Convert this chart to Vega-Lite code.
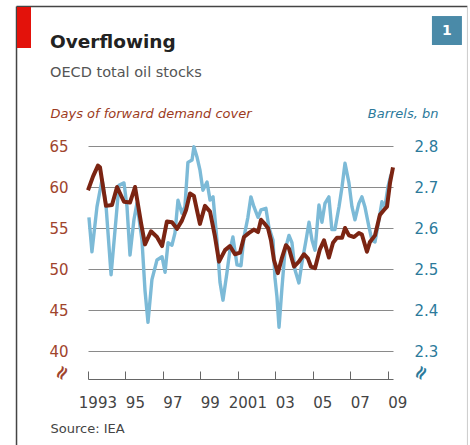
{
  "$schema": "https://vega.github.io/schema/vega-lite/v6.json",
  "width": 334,
  "height": 205,
  "autosize": {"type": "none"},
  "padding": {"left": 74, "top": 146, "right": 62, "bottom": 94},
  "background": "white",
  "config": {"view": {"stroke": null}, "font": "DejaVu Sans"},
  "title": {
    "text": "Overflowing",
    "subtitle": "OECD total oil stocks",
    "anchor": "start",
    "frame": "group",
    "dx": -24,
    "offset": -74,
    "font": "DejaVu Sans",
    "fontSize": 18.5,
    "fontWeight": "bold",
    "color": "#222222",
    "subtitleFont": "DejaVu Sans",
    "subtitleFontSize": 14.5,
    "subtitleColor": "#555555",
    "subtitlePadding": 15
  },
  "datasets": {
    "days": [
      {"year": 1993.00, "days": 59.6}, {"year": 1993.27, "days": 61.3}, {"year": 1993.53, "days": 62.6}, {"year": 1993.64, "days": 62.4},
      {"year": 1993.96, "days": 57.7}, {"year": 1994.28, "days": 57.8}, {"year": 1994.55, "days": 60.0}, {"year": 1994.92, "days": 58.2},
      {"year": 1995.24, "days": 58.1}, {"year": 1995.51, "days": 60.0}, {"year": 1995.83, "days": 55.6}, {"year": 1996.04, "days": 53.0},
      {"year": 1996.36, "days": 54.6}, {"year": 1996.68, "days": 53.9}, {"year": 1996.95, "days": 52.8}, {"year": 1997.21, "days": 55.8},
      {"year": 1997.48, "days": 55.7}, {"year": 1997.75, "days": 54.9}, {"year": 1998.01, "days": 55.9}, {"year": 1998.23, "days": 57.2},
      {"year": 1998.44, "days": 59.2}, {"year": 1998.65, "days": 58.9}, {"year": 1998.81, "days": 57.2}, {"year": 1998.97, "days": 55.5},
      {"year": 1999.24, "days": 57.7}, {"year": 1999.51, "days": 57.0}, {"year": 1999.77, "days": 54.0}, {"year": 1999.99, "days": 50.9},
      {"year": 2000.31, "days": 52.3}, {"year": 2000.57, "days": 52.8}, {"year": 2000.84, "days": 51.8}, {"year": 2001.11, "days": 52.0},
      {"year": 2001.32, "days": 53.9}, {"year": 2001.59, "days": 54.4}, {"year": 2001.85, "days": 54.8}, {"year": 2002.07, "days": 54.5},
      {"year": 2002.23, "days": 56.0}, {"year": 2002.39, "days": 55.6}, {"year": 2002.60, "days": 55.0}, {"year": 2002.76, "days": 53.5},
      {"year": 2002.92, "days": 51.1}, {"year": 2003.13, "days": 49.5}, {"year": 2003.35, "days": 51.4}, {"year": 2003.56, "days": 52.9},
      {"year": 2003.72, "days": 52.5}, {"year": 2003.99, "days": 50.3}, {"year": 2004.25, "days": 50.9}, {"year": 2004.52, "days": 51.8},
      {"year": 2004.73, "days": 51.3}, {"year": 2004.89, "days": 50.3}, {"year": 2005.11, "days": 50.1}, {"year": 2005.37, "days": 52.4},
      {"year": 2005.59, "days": 53.5}, {"year": 2005.85, "days": 51.4}, {"year": 2006.07, "days": 53.2}, {"year": 2006.28, "days": 53.8},
      {"year": 2006.55, "days": 53.8}, {"year": 2006.71, "days": 55.0}, {"year": 2006.92, "days": 54.1}, {"year": 2007.19, "days": 53.9},
      {"year": 2007.45, "days": 54.4}, {"year": 2007.61, "days": 54.2}, {"year": 2007.88, "days": 52.1}, {"year": 2008.04, "days": 53.3},
      {"year": 2008.31, "days": 54.1}, {"year": 2008.57, "days": 56.6}, {"year": 2008.79, "days": 57.2}, {"year": 2008.95, "days": 57.6},
      {"year": 2009.11, "days": 60.5}, {"year": 2009.27, "days": 62.4}
    ],
    "barrels": [
      {"year": 1993.05, "bn": 2.626}, {"year": 1993.21, "bn": 2.542}, {"year": 1993.48, "bn": 2.652}, {"year": 1993.75, "bn": 2.718},
      {"year": 1993.96, "bn": 2.656}, {"year": 1994.23, "bn": 2.486}, {"year": 1994.49, "bn": 2.620}, {"year": 1994.65, "bn": 2.704},
      {"year": 1994.92, "bn": 2.710}, {"year": 1995.08, "bn": 2.652}, {"year": 1995.24, "bn": 2.534}, {"year": 1995.45, "bn": 2.620},
      {"year": 1995.61, "bn": 2.660}, {"year": 1995.88, "bn": 2.570}, {"year": 1996.04, "bn": 2.448}, {"year": 1996.20, "bn": 2.370},
      {"year": 1996.41, "bn": 2.474}, {"year": 1996.68, "bn": 2.522}, {"year": 1996.95, "bn": 2.530}, {"year": 1997.11, "bn": 2.492},
      {"year": 1997.27, "bn": 2.564}, {"year": 1997.48, "bn": 2.558}, {"year": 1997.64, "bn": 2.588}, {"year": 1997.80, "bn": 2.668},
      {"year": 1998.01, "bn": 2.636}, {"year": 1998.17, "bn": 2.652}, {"year": 1998.33, "bn": 2.760}, {"year": 1998.55, "bn": 2.766},
      {"year": 1998.65, "bn": 2.798}, {"year": 1998.81, "bn": 2.774}, {"year": 1998.97, "bn": 2.742}, {"year": 1999.13, "bn": 2.692},
      {"year": 1999.35, "bn": 2.712}, {"year": 1999.51, "bn": 2.668}, {"year": 1999.67, "bn": 2.676}, {"year": 1999.88, "bn": 2.570},
      {"year": 2000.04, "bn": 2.468}, {"year": 2000.20, "bn": 2.424}, {"year": 2000.41, "bn": 2.490}, {"year": 2000.57, "bn": 2.546},
      {"year": 2000.73, "bn": 2.578}, {"year": 2000.95, "bn": 2.510}, {"year": 2001.16, "bn": 2.508}, {"year": 2001.32, "bn": 2.578},
      {"year": 2001.53, "bn": 2.626}, {"year": 2001.69, "bn": 2.676}, {"year": 2001.85, "bn": 2.652}, {"year": 2002.07, "bn": 2.626},
      {"year": 2002.23, "bn": 2.644}, {"year": 2002.49, "bn": 2.648}, {"year": 2002.65, "bn": 2.602}, {"year": 2002.87, "bn": 2.570},
      {"year": 2002.97, "bn": 2.480}, {"year": 2003.08, "bn": 2.432}, {"year": 2003.19, "bn": 2.358}, {"year": 2003.35, "bn": 2.456},
      {"year": 2003.51, "bn": 2.546}, {"year": 2003.72, "bn": 2.582}, {"year": 2003.88, "bn": 2.564}, {"year": 2004.04, "bn": 2.498},
      {"year": 2004.25, "bn": 2.466}, {"year": 2004.41, "bn": 2.514}, {"year": 2004.63, "bn": 2.570}, {"year": 2004.79, "bn": 2.614},
      {"year": 2004.95, "bn": 2.570}, {"year": 2005.11, "bn": 2.546}, {"year": 2005.32, "bn": 2.656}, {"year": 2005.48, "bn": 2.614},
      {"year": 2005.64, "bn": 2.660}, {"year": 2005.85, "bn": 2.676}, {"year": 2006.01, "bn": 2.596}, {"year": 2006.17, "bn": 2.596},
      {"year": 2006.39, "bn": 2.652}, {"year": 2006.55, "bn": 2.700}, {"year": 2006.71, "bn": 2.758}, {"year": 2006.92, "bn": 2.710},
      {"year": 2007.08, "bn": 2.652}, {"year": 2007.24, "bn": 2.620}, {"year": 2007.45, "bn": 2.660}, {"year": 2007.61, "bn": 2.676},
      {"year": 2007.77, "bn": 2.652}, {"year": 2007.99, "bn": 2.602}, {"year": 2008.15, "bn": 2.570}, {"year": 2008.31, "bn": 2.566},
      {"year": 2008.52, "bn": 2.620}, {"year": 2008.68, "bn": 2.664}, {"year": 2008.84, "bn": 2.652}, {"year": 2009.00, "bn": 2.700},
      {"year": 2009.16, "bn": 2.730}
    ]
  },
  "layer": [
    {
      "data": {"name": "barrels"},
      "mark": {"type": "line", "color": "#7cbad7", "strokeWidth": 3.4, "strokeJoin": "round"},
      "encoding": {
        "x": {
          "field": "year", "type": "quantitative",
          "scale": {"domain": [1993, 2009.27], "range": [14, 319], "nice": false, "zero": false},
          "axis": {
            "values": [1993, 1994, 1995, 1996, 1997, 1998, 1999, 2000, 2001, 2002, 2003, 2004, 2005, 2006, 2007, 2008, 2009],
            "format": "d",
            "labelExpr": "datum.value % 2 == 0 ? '' : ((datum.value == 1993 || datum.value == 2001) ? format(datum.value, 'd') : slice(format(datum.value, 'd'), 2))",
            "labelOffset": 9.4, "labelOverlap": false, "labelFlush": false, "labelBound": false,
            "offset": 28, "grid": false,
            "domainColor": "#666666", "tickColor": "#666666", "tickSize": -8,
            "labelPadding": 24, "labelFontSize": 15, "labelColor": "#444444", "labelFont": "DejaVu Sans",
            "title": "Source: IEA", "titleX": -24, "titleY": 49, "titleAlign": "left", "titleBaseline": "middle",
            "titleFontSize": 13, "titleFontWeight": "normal", "titleColor": "#444444", "titleFont": "DejaVu Sans"
          }
        },
        "y": {
          "field": "bn", "type": "quantitative",
          "scale": {"domain": [2.3, 2.8], "nice": false, "zero": false},
          "axis": {
            "orient": "right", "values": [2.3, 2.4, 2.5, 2.6, 2.7, 2.8], "format": ".1f",
            "grid": false, "domain": false, "ticks": false, "labelPadding": 6,
            "labelColor": "#2c7a9b", "labelFontSize": 15, "labelFont": "DejaVu Sans",
            "title": "Barrels, bn", "titleAngle": 0, "titleAlign": "right", "titleBaseline": "middle",
            "titleX": 30, "titleY": -33, "titleColor": "#2c7a9b", "titleFontStyle": "italic",
            "titleFontWeight": "normal", "titleFontSize": 13, "titleFont": "DejaVu Sans"
          }
        }
      }
    },
    {
      "layer": [
        {
          "data": {"name": "days"},
          "mark": {"type": "line", "color": "#7b2412", "strokeWidth": 4, "strokeJoin": "round"},
          "encoding": {
            "x": {"field": "year", "type": "quantitative"},
            "y": {
              "field": "days", "type": "quantitative",
              "scale": {"domain": [40, 65], "nice": false, "zero": false},
              "axis": {
                "orient": "left", "values": [40, 45, 50, 55, 60, 65],
                "grid": true, "gridColor": "#8a8a8a", "gridWidth": 1,
                "domain": false, "ticks": false, "labelPadding": 6,
                "labelColor": "#a0442c", "labelFontSize": 15, "labelFont": "DejaVu Sans",
                "title": "Days of forward demand cover", "titleAngle": 0, "titleAlign": "left", "titleBaseline": "middle",
                "titleX": -24, "titleY": -33, "titleColor": "#9c3b22", "titleFontStyle": "italic",
                "titleFontWeight": "normal", "titleFontSize": 13, "titleFont": "DejaVu Sans"
              }
            }
          }
        },
        {
          "data": {"values": [{}]},
          "mark": {"type": "rule", "color": "#444444", "strokeWidth": 1.5},
          "encoding": {
            "x": {"datum": 1989.187, "type": "quantitative"},
            "y": {"datum": 82.012, "type": "quantitative"},
            "y2": {"datum": 26.7}
          }
        },
        {
          "data": {"values": [{}]},
          "mark": {"type": "rule", "color": "#444444", "strokeWidth": 1.5},
          "encoding": {
            "x": {"datum": 1989.187, "type": "quantitative"},
            "x2": {"datum": 2013.24},
            "y": {"datum": 82.012, "type": "quantitative"}
          }
        },
        {
          "data": {"values": [{}]},
          "mark": {"type": "rule", "color": "#cccccc", "strokeWidth": 1},
          "encoding": {
            "x": {"datum": 2013.24, "type": "quantitative"},
            "y": {"datum": 82.012, "type": "quantitative"},
            "y2": {"datum": 26.7}
          }
        },
        {
          "data": {"values": [{}]},
          "mark": {"type": "rect", "color": "#e3120b"},
          "encoding": {
            "x": {"datum": 1989.213, "type": "quantitative"},
            "x2": {"datum": 1989.96},
            "y": {"datum": 81.95, "type": "quantitative"},
            "y2": {"datum": 76.95}
          }
        },
        {
          "data": {"values": [{}]},
          "mark": {"type": "rect", "color": "#4a8aa8"},
          "encoding": {
            "x": {"datum": 2011.347, "type": "quantitative"},
            "x2": {"datum": 2012.947},
            "y": {"datum": 80.85, "type": "quantitative"},
            "y2": {"datum": 77.32}
          }
        },
        {
          "data": {"values": [{"label": "1"}]},
          "mark": {"type": "text", "color": "white", "fontSize": 14, "fontWeight": "bold", "font": "DejaVu Sans", "align": "center", "baseline": "middle"},
          "encoding": {
            "x": {"datum": 2012.147, "type": "quantitative"},
            "y": {"datum": 79.085, "type": "quantitative"},
            "text": {"field": "label"}
          }
        },
        {
          "data": {"values": [{"sym": "≈"}]},
          "mark": {"type": "text", "color": "#a0442c", "fontSize": 19, "fontWeight": "bold", "angle": 300, "align": "center", "baseline": "middle"},
          "encoding": {
            "x": {"datum": 1991.613, "type": "quantitative"},
            "y": {"datum": 37.32, "type": "quantitative"},
            "text": {"field": "sym"}
          }
        },
        {
          "data": {"values": [{"sym": "≈"}]},
          "mark": {"type": "text", "color": "#2c7a9b", "fontSize": 19, "fontWeight": "bold", "angle": 300, "align": "center", "baseline": "middle"},
          "encoding": {
            "x": {"datum": 2010.76, "type": "quantitative"},
            "y": {"datum": 37.32, "type": "quantitative"},
            "text": {"field": "sym"}
          }
        }
      ]
    }
  ],
  "resolve": {"scale": {"y": "independent"}, "axis": {"y": "independent"}}
}
